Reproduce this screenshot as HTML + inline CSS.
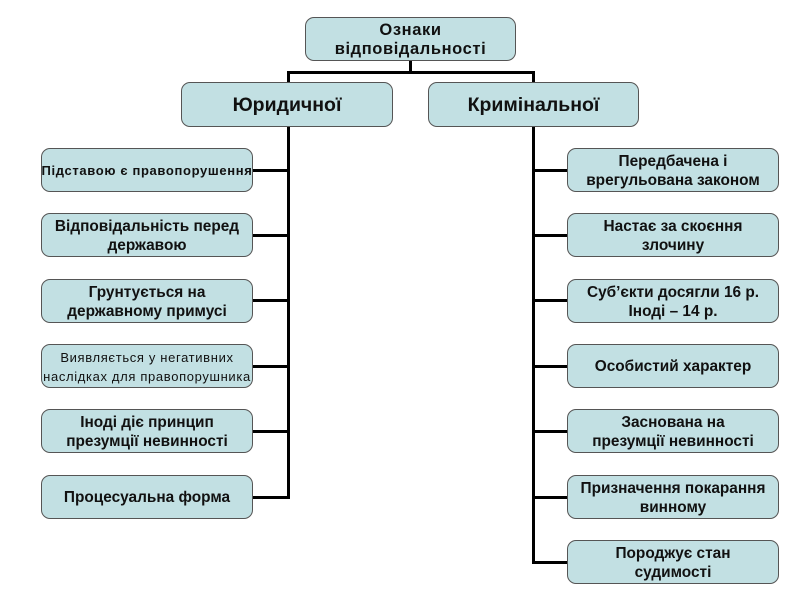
<!DOCTYPE html>
<html><head><meta charset="utf-8">
<style>
html,body{margin:0;padding:0;background:#fff;}
body{width:800px;height:600px;position:relative;overflow:hidden;font-family:"Liberation Sans",Arial,sans-serif;}
.b{position:absolute;box-sizing:border-box;background:#c2e0e3;border:1px solid #555;border-radius:9px;display:flex;align-items:center;justify-content:center;text-align:center;font-weight:bold;font-size:15.4px;line-height:19px;color:#111;white-space:nowrap;padding-top:1px;}
.l{position:absolute;background:#000;}
.L{left:41px;width:212px;height:44px;}
.R{left:567px;width:212px;height:44px;}
</style></head><body>
<!-- connectors -->
<div class="l" style="left:409px;top:60px;width:3px;height:13px;"></div>
<div class="l" style="left:287px;top:71px;width:248px;height:3px;"></div>
<div class="l" style="left:287px;top:71px;width:3px;height:12px;"></div>
<div class="l" style="left:532px;top:71px;width:3px;height:12px;"></div>
<div class="l" style="left:287px;top:126px;width:3px;height:373px;"></div>
<div class="l" style="left:532px;top:126px;width:3px;height:438px;"></div>
<div class="l" style="left:252px;top:169px;width:37px;height:3px;"></div>
<div class="l" style="left:252px;top:234px;width:37px;height:3px;"></div>
<div class="l" style="left:252px;top:299px;width:37px;height:3px;"></div>
<div class="l" style="left:252px;top:365px;width:37px;height:3px;"></div>
<div class="l" style="left:252px;top:430px;width:37px;height:3px;"></div>
<div class="l" style="left:252px;top:496px;width:37px;height:3px;"></div>
<div class="l" style="left:532px;top:169px;width:36px;height:3px;"></div>
<div class="l" style="left:532px;top:234px;width:36px;height:3px;"></div>
<div class="l" style="left:532px;top:299px;width:36px;height:3px;"></div>
<div class="l" style="left:532px;top:365px;width:36px;height:3px;"></div>
<div class="l" style="left:532px;top:430px;width:36px;height:3px;"></div>
<div class="l" style="left:532px;top:496px;width:36px;height:3px;"></div>
<div class="l" style="left:532px;top:561px;width:36px;height:3px;"></div>

<div class="b" style="left:305px;top:17px;width:211px;height:44px;font-size:16.5px;letter-spacing:0.6px;">Ознаки<br>відповідальності</div>
<div class="b" style="left:181px;top:82px;width:212px;height:45px;font-size:19.5px;">Юридичної</div>
<div class="b" style="left:428px;top:82px;width:211px;height:45px;font-size:19.5px;">Кримінальної</div>

<div class="b L" style="top:148px;font-size:13px;letter-spacing:0.65px;overflow:visible;">Підставою є правопорушення</div>
<div class="b L" style="top:213px;">Відповідальність перед<br>державою</div>
<div class="b L" style="top:279px;">Грунтується на<br>державному примусі</div>
<div class="b L" style="top:344px;font-weight:normal;font-size:13px;letter-spacing:0.65px;overflow:visible;">Виявляється у негативних<br>наслідках для правопорушника</div>
<div class="b L" style="top:409px;">Іноді діє принцип<br>презумції невинності</div>
<div class="b L" style="top:475px;">Процесуальна форма</div>

<div class="b R" style="top:148px;">Передбачена і<br>врегульована законом</div>
<div class="b R" style="top:213px;">Настає за скоєння<br>злочину</div>
<div class="b R" style="top:279px;">Суб’єкти досягли 16 р.<br>Іноді – 14 р.</div>
<div class="b R" style="top:344px;">Особистий характер</div>
<div class="b R" style="top:409px;">Заснована на<br>презумції невинності</div>
<div class="b R" style="top:475px;">Призначення покарання<br>винному</div>
<div class="b R" style="top:540px;">Породжує стан<br>судимості</div>
</body></html>
